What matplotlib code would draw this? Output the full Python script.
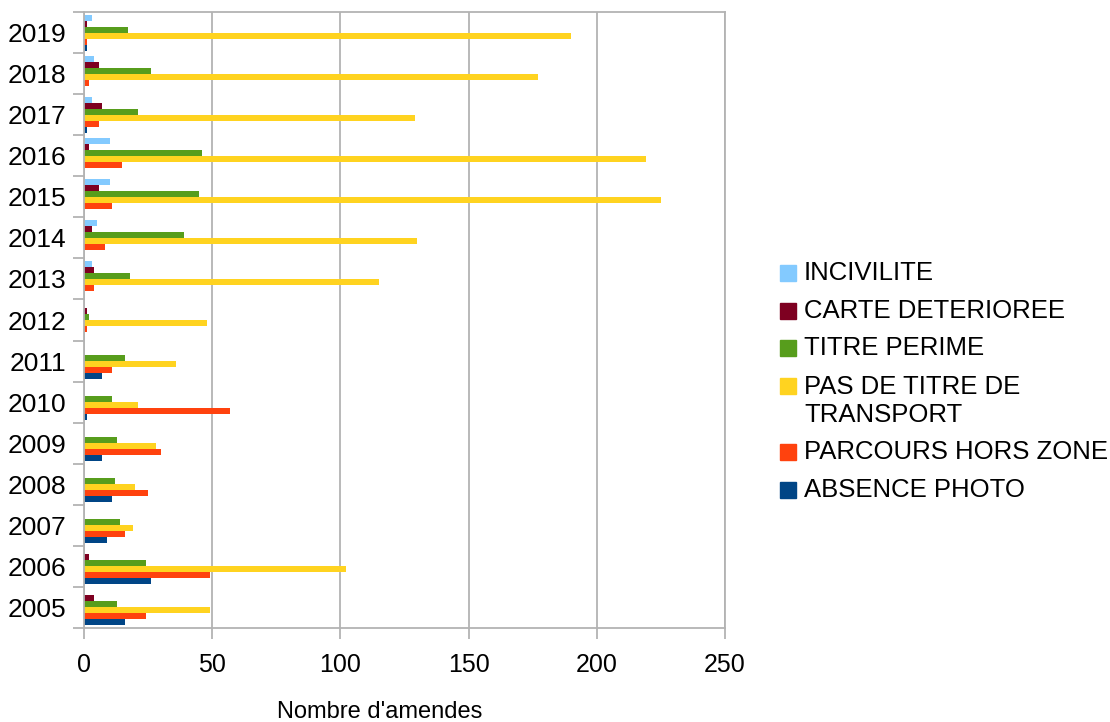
import numpy as np
import matplotlib.pyplot as plt
from matplotlib.patches import Rectangle

plt.rcParams['font.family'] = ['Liberation Sans', 'DejaVu Sans']

# Donnees
annees = [2005, 2006, 2007, 2008, 2009, 2010, 2011, 2012,
          2013, 2014, 2015, 2016, 2017, 2018, 2019]
incivilite = [0, 0, 0, 0, 0, 0, 0, 0, 3, 5, 10, 10, 3, 4, 3]
carte_deterioree = [4, 2, 0, 0, 0, 0, 0, 1, 4, 3, 6, 2, 7, 6, 1]
titre_perime = [13, 24, 14, 12, 13, 11, 16, 2, 18, 39, 45, 46, 21, 26, 17]
pas_de_titre = [49, 102, 19, 20, 28, 21, 36, 48, 115, 130, 225, 219, 129, 177, 190]
hors_zone = [24, 49, 16, 25, 30, 57, 11, 1, 4, 8, 11, 15, 6, 2, 1]
absence_photo = [16, 26, 9, 11, 7, 1, 7, 0, 0, 0, 0, 0, 1, 0, 1]

series = [incivilite, carte_deterioree, titre_perime,
          pas_de_titre, hors_zone, absence_photo]
noms = ["INCIVILITE", "CARTE DETERIOREE", "TITRE PERIME",
        "PAS DE TITRE DE\nTRANSPORT", "PARCOURS HORS ZONE", "ABSENCE PHOTO"]
couleurs = ["#83caff", "#7e0021", "#579d1c", "#ffd320", "#ff420e", "#004586"]

gris = "#b3b3b3"

fig = plt.figure(figsize=(11.1, 7.22), dpi=100)
ax = fig.add_axes([84 / 1110, 1 - 628 / 722, 641 / 1110, 616 / 722])

y = np.arange(len(annees))
h = 0.146
for k, (vals, coul) in enumerate(zip(series, couleurs)):
    ax.barh(y + (2.5 - k) * h, vals, height=h, color=coul, linewidth=0)

ax.set_xlim(0, 250)
ax.set_ylim(-0.5, len(annees) - 0.5)
ax.set_xticks(np.arange(0, 251, 50))
ax.set_yticks(y)
ax.set_yticklabels([str(a) for a in annees])
ax.set_yticks(np.arange(-0.5, len(annees), 1), minor=True)
ax.tick_params(axis='y', which='major', length=0, labelsize=19, pad=13)
ax.tick_params(axis='y', which='minor', length=8, color=gris, width=1.3)
ax.tick_params(axis='x', length=8, color=gris, width=1.3, labelsize=18, pad=10)

ax.grid(axis='x', color=gris, linewidth=1.3)
ax.set_axisbelow(True)
for s in ax.spines.values():
    s.set_color(gris)
    s.set_linewidth(1.3)

ax.set_xlabel("Nombre d'amendes", fontsize=17)
ax.xaxis.set_label_coords((380 - 84) / 641, -(712 - 628) / 616)
ax.xaxis.label.set_va('center')

# Legende
y_marque = [273, 311, 348, 386, 452, 490]
y_texte = [273, 311, 348, 401, 452, 490]
for nom, coul, ym, yt in zip(noms, couleurs, y_marque, y_texte):
    fig.patches.append(Rectangle((780 / 1110, 1 - (ym + 8) / 722), 16 / 1110, 16 / 722,
                                 transform=fig.transFigure, color=coul))
    fig.text(804 / 1110, 1 - yt / 722, nom, fontsize=18.5, va='center',
             ha='left', linespacing=1.22)

fig.savefig("out.png", dpi=100)
